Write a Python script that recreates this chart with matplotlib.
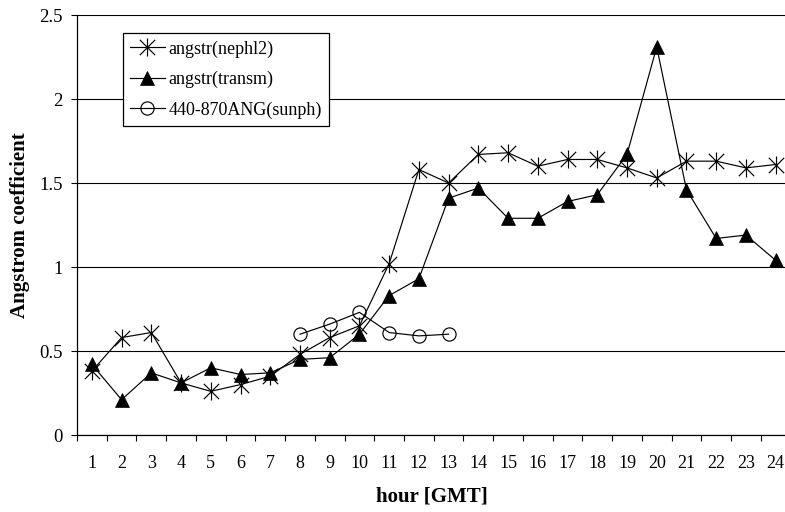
import matplotlib
matplotlib.use("Agg")
import matplotlib.pyplot as plt
from matplotlib.path import Path
import numpy as np

plt.rcParams["font.family"] = ["Liberation Serif", "DejaVu Serif"]

hours = list(range(1, 25))
hour_labels = [str(h) for h in hours]

angstr_nephl2 = [0.38, 0.58, 0.61, 0.31, 0.26, 0.30, 0.35, 0.48, 0.58, 0.65,
                 1.02, 1.58, 1.50, 1.67, 1.68, 1.60, 1.64, 1.64, 1.59, 1.53,
                 1.63, 1.63, 1.59, 1.61]
angstr_transm = [0.42, 0.21, 0.37, 0.31, 0.40, 0.36, 0.37, 0.45, 0.46, 0.60,
                 0.83, 0.93, 1.41, 1.47, 1.29, 1.29, 1.39, 1.43, 1.67, 2.31,
                 1.46, 1.17, 1.19, 1.04]
sunph_hours = [8, 9, 10, 11, 12, 13]
sunph_440_870 = [0.60, 0.66, 0.73, 0.61, 0.59, 0.60]

# Excel-style asterisk: an X with a vertical bar through it
star_marker = Path(
    [(-0.85, -0.85), (0.85, 0.85), (-0.85, 0.85), (0.85, -0.85), (0, -1), (0, 1)],
    [Path.MOVETO, Path.LINETO, Path.MOVETO, Path.LINETO, Path.MOVETO, Path.LINETO],
)

W, H = 785, 512
fig = plt.figure(figsize=(W / 100, H / 100), dpi=100)
left, right, bottom, top = 77, 790.5, 435, 15
ax = fig.add_axes([left / W, 1 - bottom / H, (right - left) / W, (bottom - top) / H])

lw = 0.85
ax.plot(hours, angstr_nephl2, color="black", lw=lw, marker=star_marker,
        markersize=13, markeredgewidth=0.85, label="angstr(nephl2)", zorder=3)
ax.plot(hours, angstr_transm, color="black", lw=lw, marker="^",
        markersize=10, markerfacecolor="black", markeredgewidth=0.5,
        label="angstr(transm)", zorder=3)
ax.plot(sunph_hours, sunph_440_870, color="black", lw=lw, marker="o",
        markersize=9.5, markerfacecolor="none", markeredgewidth=0.85,
        label="440-870ANG(sunph)", zorder=3)

ax.set_xlim(0.5, 24.5)
ax.set_ylim(0, 2.5)
ax.set_yticks(np.arange(0, 2.51, 0.5))
ax.set_yticklabels(["0", "0.5", "1", "1.5", "2", "2.5"])
ax.yaxis.grid(True, color="black", lw=0.8)
ax.set_axisbelow(True)

# category axis: tick marks between hours, labels centred on each hour
ax.set_xticks(np.arange(0.5, 25, 1))
ax.set_xticklabels([])
ax.set_xticks(hours, minor=True)
ax.set_xticklabels(hour_labels, minor=True)
ax.tick_params(axis="x", which="major", direction="out", length=4.5, width=0.8)
ax.tick_params(axis="x", which="minor", length=0, pad=14.5, labelsize=13)
ax.tick_params(axis="y", direction="out", length=4.5, width=0.8, pad=6, labelsize=13.5)

for s in ["top", "right"]:
    ax.spines[s].set_visible(False)
for s in ["left", "bottom"]:
    ax.spines[s].set_linewidth(0.9)

fig.text(432 / W, 1 - 496 / H, "hour [GMT]", ha="center", va="center",
         fontsize=15, fontweight="bold")
fig.text(20 / W, 1 - 225 / H, "Angstrom coefficient", ha="center", va="center",
         rotation=90, fontsize=15, fontweight="bold")

leg = ax.legend(loc="upper left", bbox_to_anchor=(123 / W, 1 - 33 / H),
                bbox_transform=fig.transFigure, borderaxespad=0,
                fancybox=False, framealpha=1, edgecolor="black",
                fontsize=13, handlelength=1.9, handletextpad=0.2,
                labelspacing=0.73, borderpad=0.4)
leg.get_frame().set_linewidth(0.9)

fig.savefig("out.png", dpi=100)
